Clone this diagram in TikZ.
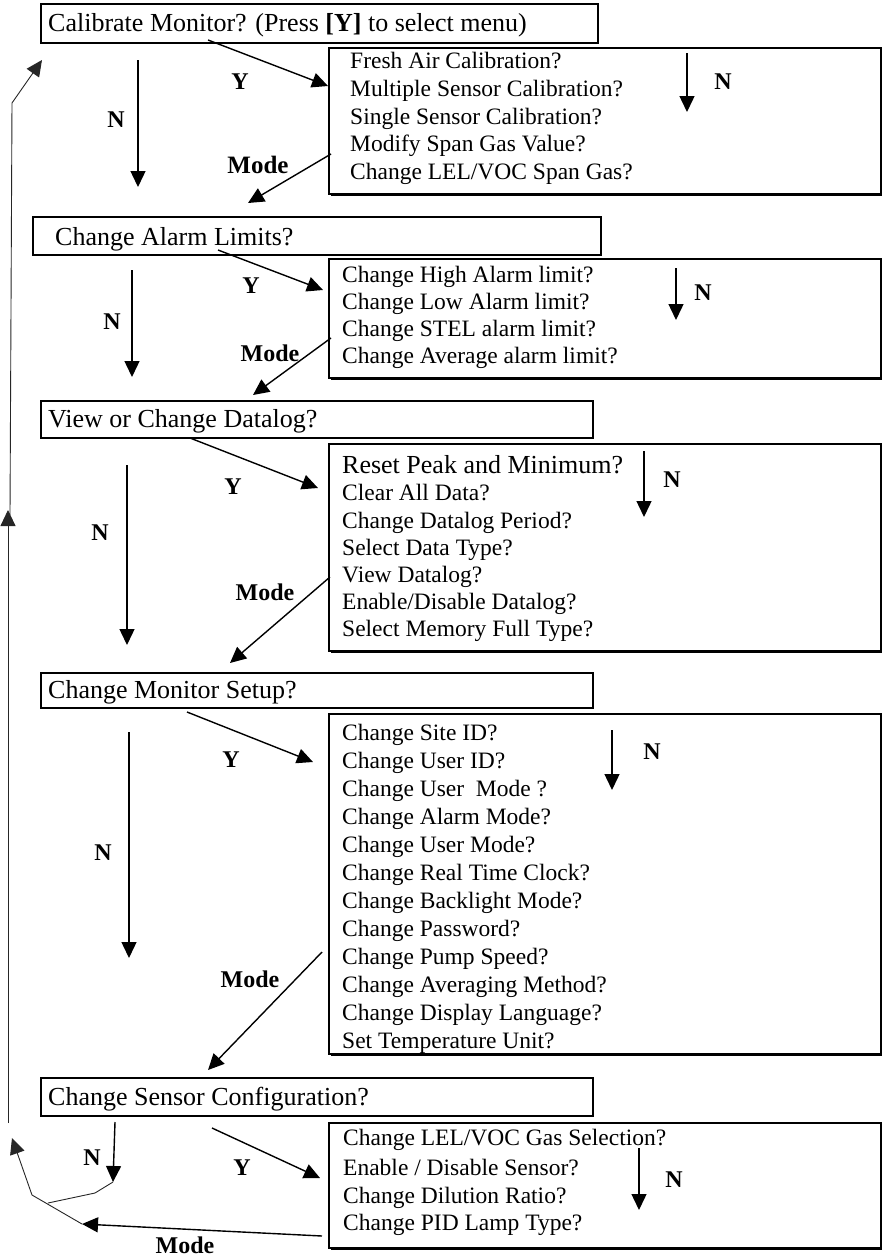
\documentclass[tikz,border=0pt]{standalone}
\usepackage{fontspec}
\setmainfont{Liberation Serif}
\usetikzlibrary{arrows.meta,shadows}

\begin{document}
\begin{tikzpicture}[x=1pt, y=-1pt,
  titlebox/.style={draw=black, line width=1.5pt, anchor=north west, inner sep=0pt},
  menubox/.style={draw=black, line width=1.6pt, fill=white, anchor=north west, inner sep=0pt,
    drop shadow={shadow xshift=2.5pt, shadow yshift=-2.5pt, fill=black, opacity=1}},
  titletext/.style={anchor=base west, inner sep=0pt, font=\fontsize{26}{30}\selectfont},
  itemtext/.style={anchor=base west, inner sep=0pt, font=\fontsize{23.5}{28}\selectfont},
  keylabel/.style={inner sep=0pt, font=\fontsize{24}{27}\selectfont\bfseries},
  arrowtip/.style={-{Triangle[length=16pt,width=15pt]}},
  arrow/.style={arrowtip, line width=1.4pt},
  backline/.style={line width=0.9pt, black!85}]

  % Page size of the reference.
  \useasboundingbox (0,0) rectangle (882,1258);

  % Main menu boxes on the left.
  \node[titlebox, minimum width=557pt, minimum height=39pt] (calib) at (40,3) {};
  \node[titlebox, minimum width=568pt, minimum height=38pt] (alarm) at (32,216) {};
  \node[titlebox, minimum width=552pt, minimum height=37pt] (datalog) at (40,400) {};
  \node[titlebox, minimum width=552pt, minimum height=35pt] (setup) at (40,672) {};
  \node[titlebox, minimum width=552pt, minimum height=38pt] (sensor) at (40,1077) {};

  \node[titletext] (calibtitle) at (48,31.5) {Calibrate Monitor? (Press \textbf{[Y]} to select menu)};
  \node[titletext] (alarmtitle) at (55,245) {Change Alarm Limits?};
  \node[titletext] (datalogtitle) at (48,427) {View or Change Datalog?};
  \node[titletext] (setuptitle) at (48,698) {Change Monitor Setup?};
  \node[titletext] (sensortitle) at (48,1105) {Change Sensor Configuration?};

  % Sub menu boxes on the right.
  \node[menubox, minimum width=552pt, minimum height=146pt] (calibmenu) at (328,47) {};
  \node[menubox, minimum width=552pt, minimum height=119pt] (alarmmenu) at (328,258) {};
  \node[menubox, minimum width=552pt, minimum height=207pt] (datalogmenu) at (328,443) {};
  \node[menubox, minimum width=552pt, minimum height=340pt] (setupmenu) at (328,713) {};
  \node[menubox, minimum width=552pt, minimum height=125pt] (sensormenu) at (328,1122) {};

  % Text of the calibration menu
  \node[itemtext] (calib1) at (350,68) {Fresh Air Calibration?};
  \node[itemtext] (calib2) at (350,96) {Multiple Sensor Calibration?};
  \node[itemtext] (calib3) at (350,124) {Single Sensor Calibration?};
  \node[itemtext] (calib4) at (350,151) {Modify Span Gas Value?};
  \node[itemtext] (calib5) at (350,179) {Change LEL/VOC Span Gas?};

  % Text of the alarm menu
  \node[itemtext] (alarm1) at (342,282) {Change High Alarm limit?};
  \node[itemtext] (alarm2) at (342,309) {Change Low Alarm limit?};
  \node[itemtext] (alarm3) at (342,336) {Change STEL alarm limit?};
  \node[itemtext] (alarm4) at (342,363) {Change Average alarm limit?};

  % Text of the datalog menu
  \node[itemtext, font=\fontsize{26}{30}\selectfont] (datalog1) at (342,473) {Reset Peak and Minimum?};
  \node[itemtext] (datalog2) at (342,500) {Clear All Data?};
  \node[itemtext] (datalog3) at (342,528) {Change Datalog Period?};
  \node[itemtext] (datalog4) at (342,555) {Select Data Type?};
  \node[itemtext] (datalog5) at (342,582) {View Datalog?};
  \node[itemtext] (datalog6) at (342,609) {Enable/Disable Datalog?};
  \node[itemtext] (datalog7) at (342,636) {Select Memory Full Type?};

  % Text of the setup menu
  \node[itemtext] (setup1) at (342,740) {Change Site ID?};
  \node[itemtext] (setup2) at (342,768) {Change User ID?};
  \node[itemtext] (setup3) at (342,796) {Change User\ \ Mode ?};
  \node[itemtext] (setup4) at (342,824) {Change Alarm Mode?};
  \node[itemtext] (setup5) at (342,852) {Change User Mode?};
  \node[itemtext] (setup6) at (342,880) {Change Real Time Clock?};
  \node[itemtext] (setup7) at (342,908) {Change Backlight Mode?};
  \node[itemtext] (setup8) at (342,936) {Change Password?};
  \node[itemtext] (setup9) at (342,964) {Change Pump Speed?};
  \node[itemtext] (setup10) at (342,992) {Change Averaging Method?};
  \node[itemtext] (setup11) at (342,1020) {Change Display Language?};
  \node[itemtext] (setup12) at (342,1048) {Set Temperature Unit?};

  % Text of the sensor menu
  \node[itemtext] (sensor1) at (343,1145) {Change LEL/VOC Gas Selection?};
  \node[itemtext] (sensor2) at (343,1175) {Enable / Disable Sensor?};
  \node[itemtext] (sensor3) at (343,1203) {Change Dilution Ratio?};
  \node[itemtext] (sensor4) at (343,1230) {Change PID Lamp Type?};

  % Ends of the arrows
  \coordinate (calibNa) at (138,60);     \coordinate (calibNb) at (138,187);
  \coordinate (calibYa) at (208,40);     \coordinate (calibYb) at (328,86);
  \coordinate (calibMa) at (331,154);    \coordinate (calibMb) at (248,203);
  \coordinate (calibSa) at (687,53);     \coordinate (calibSb) at (687,112);

  \coordinate (alarmNa) at (132,270);    \coordinate (alarmNb) at (132,377);
  \coordinate (alarmYa) at (218,250);    \coordinate (alarmYb) at (323,290);
  \coordinate (alarmMa) at (331,338);    \coordinate (alarmMb) at (253,395);
  \coordinate (alarmSa) at (676,268);    \coordinate (alarmSb) at (676,320);

  \coordinate (datalogNa) at (127,465);  \coordinate (datalogNb) at (127,645);
  \coordinate (datalogYa) at (190,438);  \coordinate (datalogYb) at (318,488);
  \coordinate (datalogMa) at (330,577);  \coordinate (datalogMb) at (230,663);
  \coordinate (datalogSa) at (644,451);  \coordinate (datalogSb) at (644,517);

  \coordinate (setupNa) at (129,732);    \coordinate (setupNb) at (129,958);
  \coordinate (setupYa) at (187,712);    \coordinate (setupYb) at (313,762);
  \coordinate (setupMa) at (322,952);    \coordinate (setupMb) at (208,1070);
  \coordinate (setupSa) at (612,730);    \coordinate (setupSb) at (612,790);

  \coordinate (sensorNa) at (115,1122);  \coordinate (sensorNb) at (113,1182);
  \coordinate (sensorYa) at (212,1128);  \coordinate (sensorYb) at (320,1178);
  \coordinate (sensorMa) at (322,1236);  \coordinate (sensorMb) at (82,1224);
  \coordinate (sensorSa) at (639,1148);  \coordinate (sensorSb) at (639,1210);

  % The arrows
  \draw[arrow] (calibNa) -- (calibNb);
  \draw[arrow] (calibYa) -- (calibYb);
  \draw[arrow] (calibMa) -- (calibMb);
  \draw[arrow] (calibSa) -- (calibSb);

  \draw[arrow] (alarmNa) -- (alarmNb);
  \draw[arrow] (alarmYa) -- (alarmYb);
  \draw[arrow] (alarmMa) -- (alarmMb);
  \draw[arrow] (alarmSa) -- (alarmSb);

  \draw[arrow] (datalogNa) -- (datalogNb);
  \draw[arrow] (datalogYa) -- (datalogYb);
  \draw[arrow] (datalogMa) -- (datalogMb);
  \draw[arrow] (datalogSa) -- (datalogSb);

  \draw[arrow] (setupNa) -- (setupNb);
  \draw[arrow] (setupYa) -- (setupYb);
  \draw[arrow] (setupMa) -- (setupMb);
  \draw[arrow] (setupSa) -- (setupSb);

  \draw[arrow] (sensorNa) -- (sensorNb);
  \draw[arrow] (sensorYa) -- (sensorYb);
  \draw[arrow] (sensorMa) -- (sensorMb);
  \draw[arrow] (sensorSa) -- (sensorSb);

  % Labels on the arrows
  \node[keylabel] (calibN) at (116,120) {N};
  \node[keylabel] (calibY) at (240,82) {Y};
  \node[keylabel, font=\fontsize{25}{28}\selectfont\bfseries] (calibM) at (258,165) {Mode};
  \node[keylabel] (calibS) at (723,82) {N};

  \node[keylabel] (alarmN) at (112,322) {N};
  \node[keylabel] (alarmY) at (251,286) {Y};
  \node[keylabel] (alarmM) at (270,353) {Mode};
  \node[keylabel] (alarmS) at (703,293) {N};

  \node[keylabel] (datalogN) at (100,533) {N};
  \node[keylabel] (datalogY) at (233,487) {Y};
  \node[keylabel] (datalogM) at (265,592) {Mode};
  \node[keylabel] (datalogS) at (672,480) {N};

  \node[keylabel] (setupN) at (103,853) {N};
  \node[keylabel] (setupY) at (231,760) {Y};
  \node[keylabel] (setupM) at (250,979) {Mode};
  \node[keylabel] (setupS) at (652,752) {N};

  \node[keylabel] (sensorN) at (92,1158) {N};
  \node[keylabel] (sensorY) at (242,1168) {Y};
  \node[keylabel] (sensorM) at (185,1245) {Mode};
  \node[keylabel] (sensorS) at (674,1180) {N};

  % Way back to the top on the far left
  \coordinate (loopb) at (95,1193);
  \coordinate (loopc) at (48,1203);
  \coordinate (loopd) at (32,1195);
  \coordinate (loope) at (12,1138);
  \coordinate (loopf) at (8,1123);
  \coordinate (loopg) at (8,510);
  \coordinate (looph) at (10,515);
  \coordinate (loopi) at (12,103);
  \coordinate (loopj) at (42,60);

  \draw[backline] (sensorNb) -- (loopb) -- (loopc);
  \draw[backline, arrowtip] (sensorMb) -- (loopd) -- (loope);
  \draw[backline, arrowtip] (loopf) -- (loopg);
  \draw[backline, arrowtip] (looph) -- (loopi) -- (loopj);

\end{tikzpicture}
\end{document}
